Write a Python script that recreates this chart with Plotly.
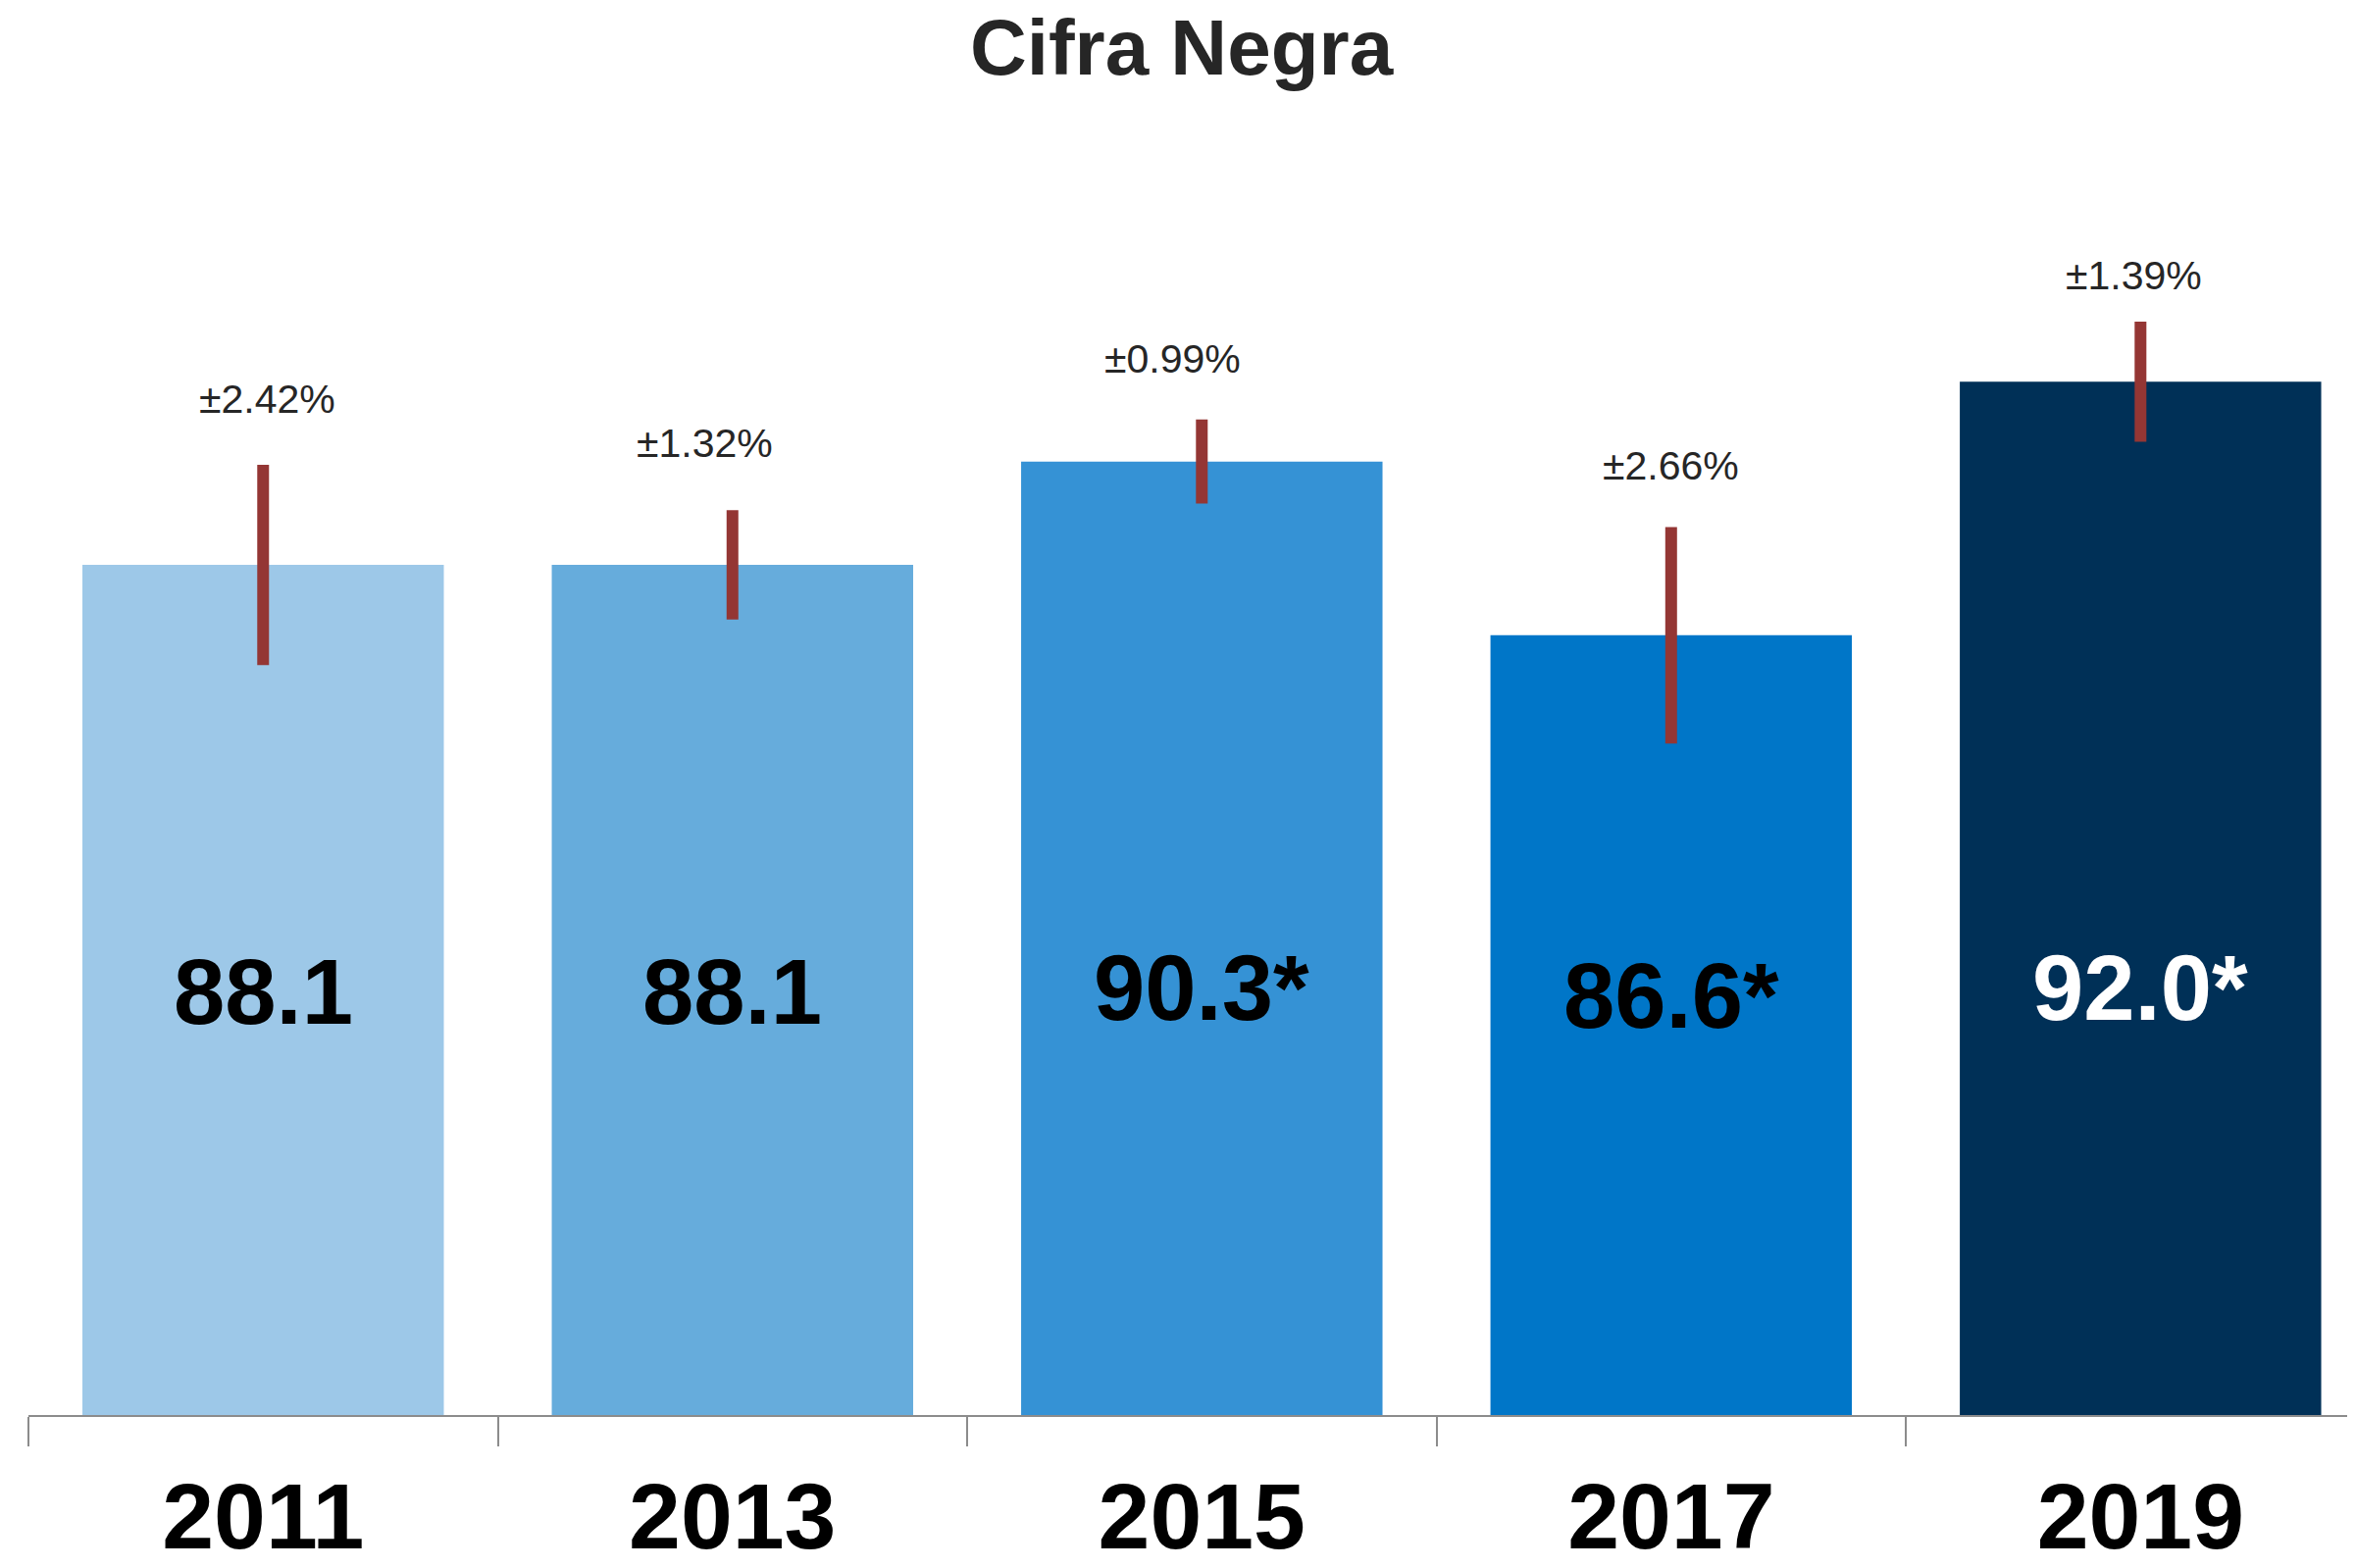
import plotly.graph_objects as go

# ---- data ----
years = ["2011", "2013", "2015", "2017", "2019"]
values = [88.1, 88.1, 90.3, 86.6, 92.0]
error_pct = [2.42, 1.32, 0.99, 2.66, 1.39]
significant = [False, False, True, True, True]

bar_colors = ["#9DC8E8", "#66ACDC", "#3592D5", "#0076C8", "#003057"]
value_text_colors = ["#000000", "#000000", "#000000", "#000000", "#FFFFFF"]

# pixel nudges for labels (layout only)
pct_xshift = [4, -28, -30, 0, -7]
pct_yshift = [67, 68, 62, 63, 47]
val_yshift = [0, 0, 4, -4, 4]

err_abs = [v * e / 100.0 for v, e in zip(values, error_pct)]
value_labels = [f"{v:.1f}" + ("*" if s else "") for v, s in zip(values, significant)]
pct_labels = [f"±{e:.2f}%" for e in error_pct]

BOLD = "Liberation Sans, Arial, Helvetica, sans-serif"
PLAIN = "Liberation Sans Narrow, Arial Narrow, Liberation Sans, Arial, sans-serif"

W, H = 2393, 1591
MT, MB = 7, 156
PX_PER_UNIT = 47.9

fig = go.Figure()
fig.add_trace(go.Bar(
    x=years,
    y=values,
    base=0,
    marker=dict(color=bar_colors, line=dict(width=0)),
    error_y=dict(type="data", array=err_abs, visible=True,
                 color="#943634", thickness=12, width=0),
    hoverinfo="skip",
))

annotations = []
for i, yr in enumerate(years):
    annotations.append(dict(
        x=i, y=79.0, xref="x", yref="y", yshift=val_yshift[i],
        text=f"<b>{value_labels[i]}</b>", showarrow=False,
        xanchor="center", yanchor="middle",
        font=dict(family=BOLD, size=94, color=value_text_colors[i]),
    ))
    annotations.append(dict(
        x=i, y=values[i] + err_abs[i], xref="x", yref="y",
        text=pct_labels[i], showarrow=False,
        xanchor="center", yanchor="middle",
        xshift=pct_xshift[i], yshift=pct_yshift[i],
        font=dict(family=PLAIN, size=41, color="#262626"),
    ))

fig.update_layout(
    width=W, height=H,
    margin=dict(l=21, r=0, t=MT, b=MB),
    paper_bgcolor="white", plot_bgcolor="white",
    bargap=0.23,
    showlegend=False,
    title=dict(text="<b>Cifra Negra</b>", x=0.5, xref="container", xanchor="center",
               y=1 - 12 / H, yref="container", yanchor="top",
               font=dict(family=BOLD, size=80, color="#262626")),
    annotations=annotations,
)

fig.update_xaxes(
    type="category", range=[-0.5, 4.457], automargin=False,
    showline=True, linecolor="#8C8C8C", linewidth=2,
    ticks="outside", tickson="boundaries", ticklen=30,
    tickcolor="#8C8C8C", tickwidth=2,
    tickfont=dict(family=BOLD, size=95, color="#000000"),
    tickprefix="<b>", ticksuffix="</b>",
    ticklabelstandoff=20,
    showgrid=False, zeroline=False,
)
fig.update_yaxes(
    range=[70, 70 + (H - MB - MT) / PX_PER_UNIT], visible=False,
    showgrid=False, zeroline=False, automargin=False,
)

fig.write_html("out.html")
